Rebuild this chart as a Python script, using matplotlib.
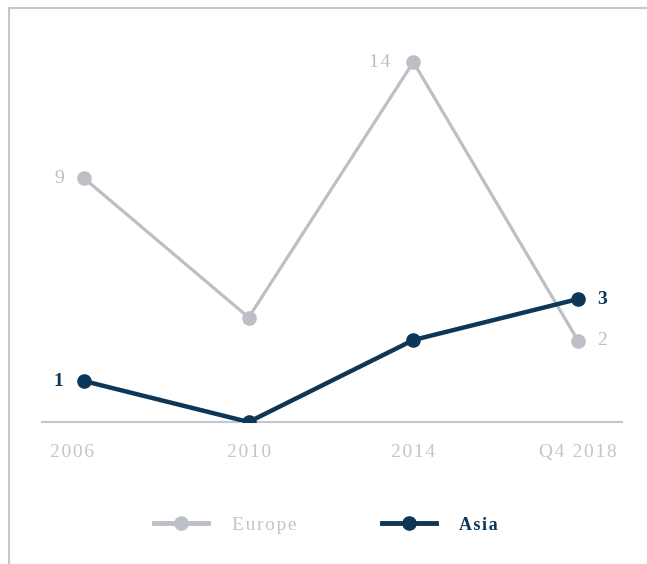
import matplotlib.pyplot as plt
from matplotlib.lines import Line2D
from matplotlib.transforms import ScaledTranslation

years = ["2006", "2010", "2014", "Q4 2018"]
europe = [9, 3, 14, 2]
asia = [1, 0, 2, 3]

grey = "#BCBFC6"
navy = "#0E3657"
tick_grey = "#C3C4CF"
frame_grey = "#C4C5CE"

plt.rcParams["font.family"] = ["Liberation Serif", "DejaVu Serif"]


def spaced(s):
    # fake letter spacing with hair spaces
    return "\u200a".join(s)


fig = plt.figure(figsize=(6.47, 5.64), dpi=100)
ax = fig.add_axes([42 / 647, 142 / 564, 580 / 647, 382 / 564])
ax2 = ax.twinx()

x = list(range(len(years)))

# Europe on its own scale (drawn behind), Asia in front
ax2.plot(x, europe, color=grey, lw=2.3, marker="o", ms=9.5, zorder=2)
ax.plot(x, asia, color=navy, lw=3.2, marker="o", ms=9.5, zorder=3)
ax.set_zorder(ax2.get_zorder() + 1)
ax.patch.set_visible(False)

ax.set_xlim(-0.255, 3.267)
ax.set_ylim(0, 9.32)
ax2.set_ylim(-1.5, 14.95)

for a in (ax, ax2):
    for s in a.spines.values():
        s.set_visible(False)
    a.set_yticks([])
ax.spines["bottom"].set_visible(True)
ax.spines["bottom"].set_color(frame_grey)
ax.spines["bottom"].set_linewidth(1.5)

ax.set_xticks(x)
ax.set_xticklabels([spaced(y) for y in years], color=tick_grey, fontsize=14)
ax.tick_params(axis="x", length=0, pad=16)
first = ax.get_xticklabels()[0]
first.set_transform(first.get_transform() + ScaledTranslation(-12 / 100, 0, fig.dpi_scale_trans))

# value labels
lab = dict(textcoords="offset points", va="center", fontsize=14)
ax2.annotate(spaced("9"), (0, europe[0]), xytext=(-14.5, 0), ha="right", color=grey, **lab)
ax2.annotate(spaced("14"), (2, europe[2]), xytext=(-16.5, 0), ha="right", color=grey, **lab)
ax2.annotate(spaced("2"), (3, europe[3]), xytext=(14, 0), ha="left", color=grey, **lab)
ax.annotate("1", (0, asia[0]), xytext=(-15, 0), ha="right", color=navy,
            fontweight="bold", **lab)
ax.annotate("3", (3, asia[3]), xytext=(14, 0), ha="left", color=navy,
            fontweight="bold", **lab)

handles = [
    Line2D([], [], color=grey, lw=3.5, marker="o", ms=9.5),
    Line2D([], [], color=navy, lw=3.5, marker="o", ms=9.5),
]
leg = fig.legend(handles, [spaced("Europe"), spaced("Asia")], loc="center",
                 bbox_to_anchor=(326 / 647, 1 - 525 / 564), ncol=2, frameon=False,
                 fontsize=14, handlelength=2.8, columnspacing=4.4, handletextpad=1.2)
leg.get_texts()[0].set_color(tick_grey)
leg.get_texts()[1].set_color(navy)
leg.get_texts()[1].set_fontweight("bold")
leg.get_texts()[1].set_fontsize(13)

# outer frame: top and left lines
fig.add_artist(Line2D([9 / 647, 1], [1 - 8 / 564, 1 - 8 / 564], color=frame_grey, lw=1.5,
                      transform=fig.transFigure))
fig.add_artist(Line2D([9 / 647, 9 / 647], [0, 1 - 8 / 564], color=frame_grey, lw=1.5,
                      transform=fig.transFigure))

fig.savefig("out.png", dpi=100)
